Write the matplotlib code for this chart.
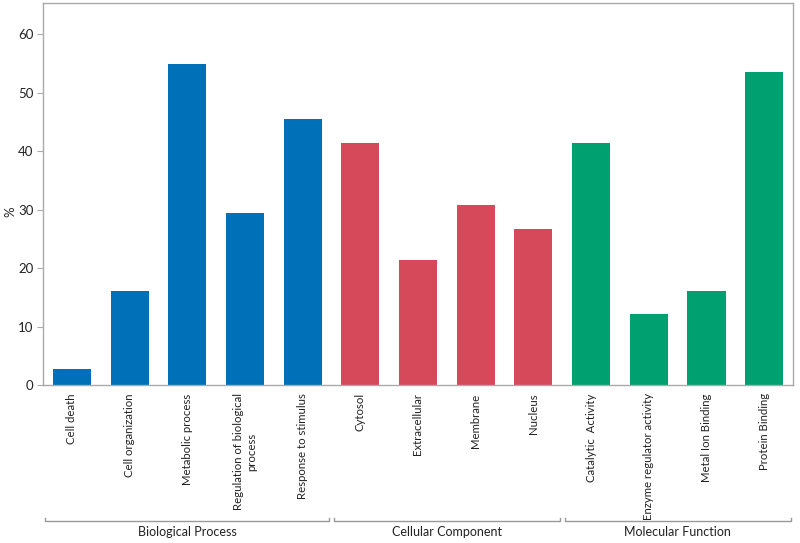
import matplotlib.pyplot as plt
import matplotlib.transforms as mtransforms
import numpy as np

plt.rcParams['font.family'] = ['Lato', 'DejaVu Sans']

# categories and values (%)
labels = ["Cell death", "Cell organization", "Metabolic process",
          "Regulation of biological\nprocess", "Response to stimulus",
          "Cytosol", "Extracellular", "Membrane", "Nucleus",
          "Catalytic  Activity", "Enzyme regulator activity",
          "Metal Ion Binding", "Protein Binding"]
values = [2.7, 16.1, 54.8, 29.4, 45.5,
          41.4, 21.4, 30.8, 26.7,
          41.4, 12.1, 16.1, 53.5]
groups = ["Biological Process", "Cellular Component", "Molecular Function"]
group_sizes = [5, 4, 4]
group_colors = ["#0070b8", "#d5495a", "#00a070"]

colors = []
for c, n in zip(group_colors, group_sizes):
    colors += [c] * n

fig = plt.figure(figsize=(8, 5.43), dpi=100)
ax = fig.add_axes([43 / 800, 1 - 385 / 543, 750 / 800, 382 / 543])

x = np.arange(len(labels))
ax.bar(x, values, width=0.66, color=colors)

ax.set_xlim(-0.5, len(labels) - 0.5)
ax.set_ylim(0, 65.3)
ax.set_yticks(range(0, 61, 10))
ax.set_xticks(x)
ax.set_xticklabels(labels, rotation=90, va='top', ha='center',
                   multialignment='center', fontsize=8.2, color='#222222')
ax.tick_params(axis='x', length=0, pad=6)
ax.tick_params(axis='y', length=4, color='#aaaaaa', labelsize=9.5,
               labelcolor='#222222', pad=3)
for s in ax.spines.values():
    s.set_color('#aaaaaa')
    s.set_linewidth(1.0)
fig.text(10 / 800, 1 - 212 / 543, '%', rotation=90, ha='center', va='center',
         fontsize=9.5, color='#222222')

# group brackets below the tick labels
trans = mtransforms.blended_transform_factory(ax.transData, ax.transAxes)
y_line = -0.356
start = 0
for g, n in zip(groups, group_sizes):
    x0 = start - 0.46
    x1 = start + n - 0.54
    ax.plot([x0, x0, x1, x1], [y_line + 0.008, y_line, y_line, y_line + 0.008],
            transform=trans, clip_on=False, color='#999999', lw=1)
    ax.text((x0 + x1) / 2, y_line - 0.012, g, transform=trans,
            ha='center', va='top', fontsize=9, color='#222222')
    start += n

fig.savefig('out.png', dpi=100)
